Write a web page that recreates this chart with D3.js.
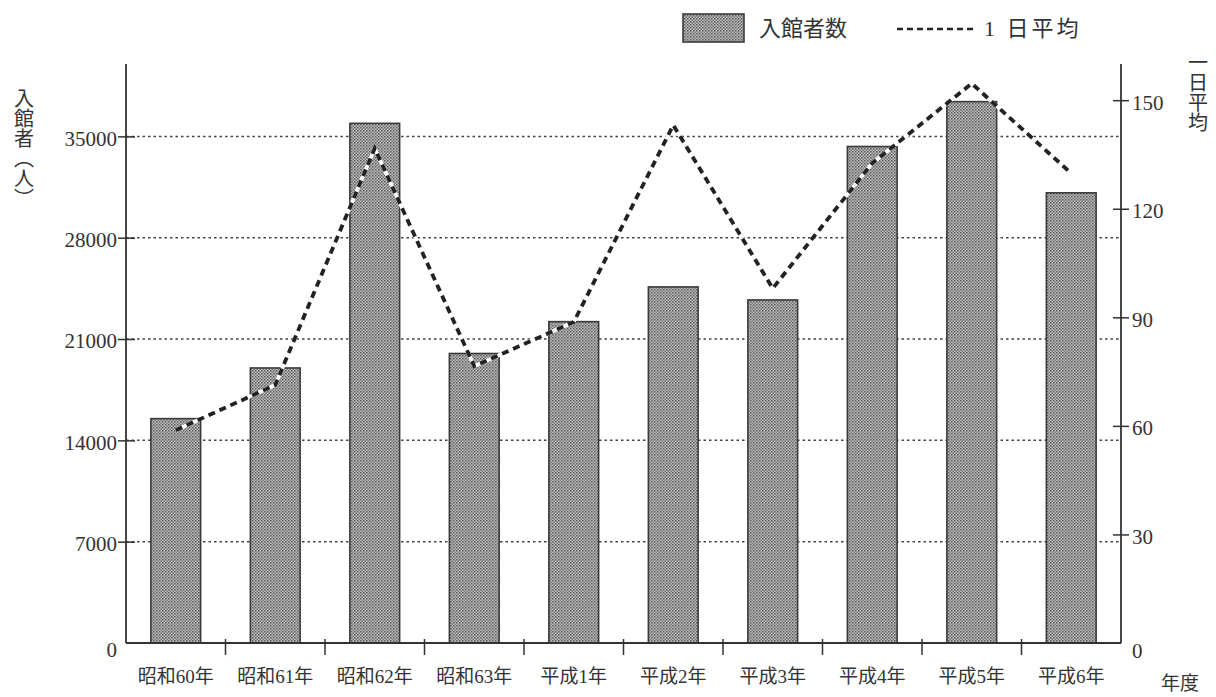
<!DOCTYPE html>
<html>
<head>
<meta charset="utf-8">
<script src="https://cdn.jsdelivr.net/npm/d3@7"></script>
<style>
  body { margin: 0; background: #fff; }
  svg { display: block; }
  .num { font-family: "Liberation Serif", "Noto Sans CJK JP", serif; fill: #333; }
  .jp { font-family: "Noto Sans CJK JP", sans-serif; fill: #333; }
</style>
</head>
<body>
<svg id="chart" width="1216" height="697"></svg>
<script>
// data
var years = ["昭和60年", "昭和61年", "昭和62年", "昭和63年", "平成1年",
             "平成2年", "平成3年", "平成4年", "平成5年", "平成6年"];
var visitors = [15500, 19000, 35900, 20000, 22200, 24600, 23700, 34300, 37400, 31100];
var dailyAvg = [58.8, 71.3, 136.7, 76.5, 88.7, 143.1, 98.0, 132.6, 154.6, 129.8];
var leftTicks = [0, 7000, 14000, 21000, 28000, 35000];
var rightTicks = [0, 30, 60, 90, 120, 150];

var margin = {top: 64, right: 95, bottom: 54, left: 126},
    width = 1216 - margin.left - margin.right,
    height = 697 - margin.top - margin.bottom;

var svg = d3.select("#chart");

// stipple pattern for bars
var defs = svg.append("defs");
var pat = defs.append("pattern")
    .attr("id", "stipple")
    .attr("width", 3).attr("height", 3)
    .attr("patternUnits", "userSpaceOnUse");
pat.append("rect").attr("width", 3).attr("height", 3).attr("fill", "#bdbdbd");
pat.append("rect").attr("x", 0).attr("y", 0).attr("width", 1.5).attr("height", 1.5).attr("fill", "#5a5a5a");
pat.append("rect").attr("x", 1.5).attr("y", 1.5).attr("width", 1.5).attr("height", 1.5).attr("fill", "#7a7a7a");

var g = svg.append("g")
    .attr("transform", "translate(" + margin.left + "," + margin.top + ")");

var x = d3.scaleBand()
    .domain(years)
    .range([0, width])
    .paddingInner(0.5)
    .paddingOuter(0.25);

var yL = d3.scaleLinear().domain([0, 40000]).range([height, 0]);
var yR = d3.scaleLinear().domain([0, 160]).range([height, 0]);

// dotted grid lines
g.append("g")
    .selectAll("line")
    .data(leftTicks.filter(function(d) { return d > 0; }))
    .enter()
    .append("line")
    .attr("x1", 0).attr("x2", width)
    .attr("y1", function(d) { return yL(d); })
    .attr("y2", function(d) { return yL(d); })
    .attr("stroke", "#444")
    .attr("stroke-width", 1.5)
    .attr("stroke-dasharray", "2.5,3");

// bars
g.append("g")
    .selectAll("rect")
    .data(visitors)
    .enter()
    .append("rect")
    .attr("x", function(d, i) { return x(years[i]); })
    .attr("y", function(d) { return yL(d); })
    .attr("width", x.bandwidth())
    .attr("height", function(d) { return height - yL(d); })
    .attr("fill", "url(#stipple)")
    .attr("stroke", "#3a3a3a")
    .attr("stroke-width", 1.6);

// daily average line
var line = d3.line()
    .x(function(d, i) { return x(years[i]) + x.bandwidth() / 2; })
    .y(function(d) { return yR(d); });

g.append("path")
    .datum(dailyAvg)
    .attr("d", line)
    .attr("fill", "none")
    .attr("stroke", "#fff")
    .attr("stroke-width", 3.8);

g.append("path")
    .datum(dailyAvg)
    .attr("d", line)
    .attr("fill", "none")
    .attr("stroke", "#222")
    .attr("stroke-width", 3.8)
    .attr("stroke-dasharray", "7,5");

// left axis
var axL = g.append("g")
    .call(d3.axisLeft(yL).tickValues(leftTicks).tickFormat(d3.format("d"))
        .tickSize(8).tickPadding(2).tickSizeOuter(0));
axL.select(".domain").remove();
axL.selectAll(".tick line").attr("stroke", "#333").attr("stroke-width", 1.5)
    .attr("x2", 9).attr("x1", -8);
axL.selectAll(".tick text")
    .attr("class", "num")
    .attr("font-size", 21)
    .attr("dy", function(d) { return d === 0 ? "0.65em" : "0.42em"; })
    .attr("x", -9);
axL.selectAll(".tick").filter(function(d) { return d === 0; }).select("line").remove();

// right axis
var axR = g.append("g")
    .attr("transform", "translate(" + width + ",0)")
    .call(d3.axisRight(yR).tickValues(rightTicks).tickFormat(d3.format("d"))
        .tickSize(8).tickPadding(3).tickSizeOuter(0));
axR.select(".domain").remove();
axR.selectAll(".tick line").attr("stroke", "#333").attr("stroke-width", 1.5)
    .attr("x1", -8).attr("x2", 8);
axR.selectAll(".tick text")
    .attr("class", "num")
    .attr("font-size", 21)
    .attr("dy", function(d) { return d === 0 ? "0.7em" : "0.42em"; })
    .attr("x", 11);
axR.selectAll(".tick").filter(function(d) { return d === 0; }).select("line").remove();

// axis lines
g.append("line").attr("x1", 0).attr("x2", 0).attr("y1", 0).attr("y2", height)
    .attr("stroke", "#333").attr("stroke-width", 1.8);
g.append("line").attr("x1", width).attr("x2", width).attr("y1", 0).attr("y2", height)
    .attr("stroke", "#333").attr("stroke-width", 1.8);
g.append("line").attr("x1", 0).attr("x2", width).attr("y1", height).attr("y2", height)
    .attr("stroke", "#333").attr("stroke-width", 1.8);

// category ticks between bands
g.append("g")
    .selectAll("line")
    .data(years.slice(1))
    .enter()
    .append("line")
    .attr("x1", function(d) { return x(d) - (x.step() - x.bandwidth()) / 2; })
    .attr("x2", function(d) { return x(d) - (x.step() - x.bandwidth()) / 2; })
    .attr("y1", height - 4)
    .attr("y2", height + 12)
    .attr("stroke", "#333")
    .attr("stroke-width", 1.5);

// category labels
g.append("g")
    .selectAll("text")
    .data(years)
    .enter()
    .append("text")
    .attr("class", "num")
    .attr("x", function(d) { return x(d) + x.bandwidth() / 2; })
    .attr("y", height + 40)
    .attr("text-anchor", "middle")
    .attr("font-size", 19)
    .text(function(d) { return d; });

svg.append("text")
    .attr("class", "jp")
    .attr("x", 1180).attr("y", 690)
    .attr("text-anchor", "middle")
    .attr("font-size", 19)
    .text("年度");

// vertical axis titles
svg.append("text")
    .attr("class", "jp")
    .attr("x", 24).attr("y", 88)
    .attr("font-size", 20)
    .style("writing-mode", "vertical-rl")
    .text("入館者︵人︶");

svg.append("text")
    .attr("class", "jp")
    .attr("x", 1198).attr("y", 52)
    .attr("font-size", 20)
    .style("writing-mode", "vertical-rl")
    .text("一日平均");

// legend
var lg = svg.append("g");
lg.append("rect")
    .attr("x", 683).attr("y", 14)
    .attr("width", 61).attr("height", 28)
    .attr("fill", "url(#stipple)")
    .attr("stroke", "#3a3a3a")
    .attr("stroke-width", 1.6);
lg.append("text")
    .attr("class", "jp")
    .attr("x", 759).attr("y", 36)
    .attr("font-size", 22)
    .text("入館者数");
lg.append("line")
    .attr("x1", 897).attr("x2", 977)
    .attr("y1", 29).attr("y2", 29)
    .attr("stroke", "#222")
    .attr("stroke-width", 2.6)
    .attr("stroke-dasharray", "6,4");
lg.append("text")
    .attr("class", "num")
    .attr("x", 984).attr("y", 36)
    .attr("font-size", 22)
    .attr("letter-spacing", 3)
    .text("1 日平均");
</script>
</body>
</html>
